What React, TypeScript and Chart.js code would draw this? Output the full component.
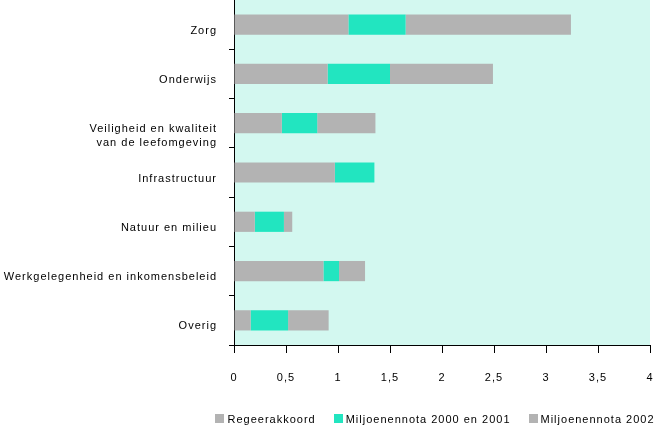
import React, { useEffect, useRef } from "react";
import { Chart, registerables } from "chart.js";

Chart.register(...registerables);

const categories: (string | string[])[] = [
  "Zorg",
  "Onderwijs",
  ["", "Veiligheid en kwaliteit", "van de leefomgeving"],
  "Infrastructuur",
  "Natuur en milieu",
  "Werkgelegenheid en inkomensbeleid",
  "Overig",
];

const seriesNames = ["Regeerakkoord", "Miljoenennota 2000 en 2001", "Miljoenennota 2002"];

const regeerakkoord = [1.1, 0.9, 0.46, 0.97, 0.2, 0.86, 0.16];
const miljoenennota2000en2001 = [0.55, 0.6, 0.34, 0.38, 0.28, 0.15, 0.36];
const miljoenennota2002 = [1.59, 0.99, 0.56, 0, 0.08, 0.25, 0.39];

const xMin = 0;
const xMax = 4;
const xStep = 0.5;

const GREY = "#b3b3b3";
const CYAN = "#22e5c0";
const PLOT_BG = "#d3f8f0";
const FONT_FAMILY = "'Liberation Sans', Arial, sans-serif";

const spacingPlugin = {
  id: "letterSpacing",
  beforeUpdate(chart: any) {
    chart.ctx.letterSpacing = "1px";
  },
  beforeLayout(chart: any) {
    chart.ctx.letterSpacing = "1px";
  },
  beforeDraw(chart: any) {
    chart.ctx.letterSpacing = "1px";
  },
};

const plotBgPlugin = {
  id: "plotBg",
  beforeDraw(chart: any) {
    const { ctx, chartArea } = chart;
    ctx.save();
    ctx.fillStyle = PLOT_BG;
    ctx.fillRect(chartArea.left, chartArea.top, chartArea.right - chartArea.left, chartArea.bottom - chartArea.top);
    ctx.restore();
  },
};

const legendPlugin = {
  id: "customLegend",
  afterDraw(chart: any) {
    const { ctx } = chart;
    ctx.save();
    ctx.letterSpacing = "1px";
    ctx.font = `11px ${FONT_FAMILY}`;
    ctx.textBaseline = "alphabetic";
    ctx.textAlign = "left";
    const box = 9;
    const boxGap = 3;
    const itemGap = 18;
    const items = chart.data.datasets.map((ds: any) => ({
      label: ds.label as string,
      color: ds.backgroundColor as string,
      w: ctx.measureText(ds.label).width,
    }));
    const total = items.reduce((s: number, it: any) => s + box + boxGap + it.w, 0) + itemGap * (items.length - 1);
    let x = 435 - total / 2;
    const baseline = 423;
    items.forEach((it: any) => {
      ctx.fillStyle = it.color;
      ctx.fillRect(Math.round(x), 414, box, box);
      x += box + boxGap;
      ctx.fillStyle = "#000";
      ctx.fillText(it.label, x, baseline);
      x += it.w + itemGap;
    });
    ctx.restore();
  },
};

function clearPadding(scale: any) {
  scale.paddingTop = 0;
  scale.paddingBottom = 0;
  scale.paddingLeft = 0;
  scale.paddingRight = 0;
}

export default function App() {
  const canvasRef = useRef<HTMLCanvasElement | null>(null);

  useEffect(() => {
    document.body.style.margin = "0";
    const canvas = canvasRef.current;
    if (!canvas) return;
    const chart = new Chart(canvas, {
      type: "bar",
      data: {
        labels: categories,
        datasets: [
          { label: seriesNames[0], data: regeerakkoord, backgroundColor: GREY },
          { label: seriesNames[1], data: miljoenennota2000en2001, backgroundColor: CYAN },
          { label: seriesNames[2], data: miljoenennota2002, backgroundColor: GREY },
        ],
      },
      options: {
        indexAxis: "y",
        animation: false,
        responsive: true,
        maintainAspectRatio: false,
        devicePixelRatio: 1,
        layout: { autoPadding: false, padding: { left: 0, right: 4, top: 0, bottom: 42 } },
        datasets: {
          bar: { barPercentage: 0.41, categoryPercentage: 1, borderWidth: 0 },
        },
        plugins: {
          legend: { display: false },
          tooltip: { enabled: false },
        },
        scales: {
          x: {
            stacked: true,
            min: xMin,
            max: xMax,
            afterFit(scale: any) {
              scale.height = 40;
              clearPadding(scale);
            },
            ticks: {
              stepSize: xStep,
              color: "#000",
              padding: 18,
              maxRotation: 0,
              font: { family: FONT_FAMILY, size: 11 },
              callback: (v: any) => String(v).replace(".", ","),
            },
            grid: {
              display: true,
              drawOnChartArea: false,
              drawTicks: true,
              tickLength: 8,
              color: "#000",
              lineWidth: 1,
            },
            border: { display: true, color: "#000", width: 1 },
          },
          y: {
            stacked: true,
            afterFit(scale: any) {
              scale.width = 234;
              clearPadding(scale);
            },
            ticks: {
              color: "#000",
              padding: 12,
              labelOffset: 6,
              font: { family: FONT_FAMILY, size: 11, lineHeight: 1.27 },
            },
            grid: {
              display: true,
              offset: true,
              drawOnChartArea: false,
              drawTicks: true,
              tickLength: 5,
              color: "#000",
              lineWidth: 1,
            },
            border: { display: true, color: "#000", width: 1 },
          },
        },
      },
      plugins: [spacingPlugin, plotBgPlugin, legendPlugin],
    } as any);
    return () => chart.destroy();
  }, []);

  return (
    <div style={{ position: "absolute", left: 0, top: 0, width: 654, height: 427 }}>
      <canvas ref={canvasRef} />
    </div>
  );
}
